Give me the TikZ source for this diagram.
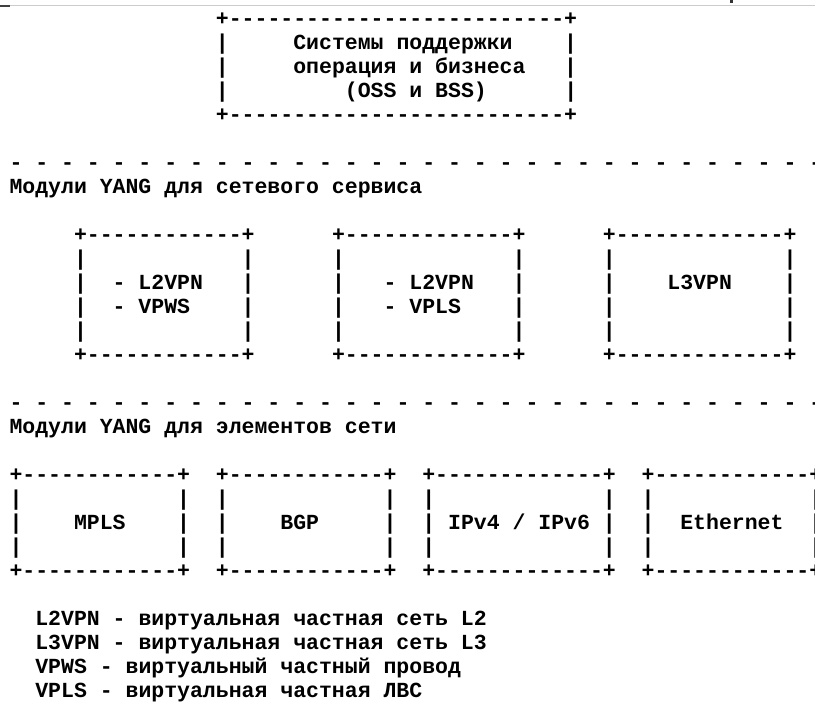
\documentclass[tikz,border=0pt]{standalone}
\usepackage{fontspec}
\setmonofont{Liberation Mono}

% monospaced bold text, one character = 12.9pt, one line = 24.03pt
\newcommand{\asciifont}{\ttfamily\bfseries\fontsize{21.5}{24.03}\selectfont}

\begin{document}
\begin{tikzpicture}[x=1pt, y=-1pt,
    ascii/.style={font=\asciifont, inner sep=0pt, anchor=base west}]
  \fill[white] (0,0) rectangle (815,705);
  \useasboundingbox (0,0) rectangle (815,705);

  % Page edge left over at the top
  \draw[gray!40, line width=1pt] (0,5.5) -- (815,5.5);
  \draw[black!75, line width=1.3pt] (0,6) -- (10,6);
  \fill[black!80] (730,0) rectangle (733,2.5);

  % OSS / BSS
  \node[ascii] (oss) at (215.7,25.07) {\begin{tabular}[t]{@{}l@{}}
    +--------------------------+\\
    |~~~~~Системы~поддержки~~~~|\\
    |~~~~~операция~и~бизнеса~~~|\\
    |~~~~~~~~~(OSS~и~BSS)~~~~~~|\\
    +--------------------------+
  \end{tabular}};

  % Network service modules
  \node[ascii] (sepsvc) at (9.3,169.25)
    {-~-~-~-~-~-~-~-~-~-~-~-~-~-~-~-~-~-~-~-~-~-~-~-~-~-~-~-~-~-~-~-~};
  \node[ascii] (hdrsvc) at (9.3,193.28) {Модули~YANG~для~сетевого~сервиса};

  \node[ascii] (vpws) at (73.8,241.34) {\begin{tabular}[t]{@{}l@{}}
    +------------+\\
    |~~~~~~~~~~~~|\\
    |~~-~L2VPN~~~|\\
    |~~-~VPWS~~~~|\\
    |~~~~~~~~~~~~|\\
    +------------+
  \end{tabular}};
  \node[ascii] (vpls) at (331.8,241.34) {\begin{tabular}[t]{@{}l@{}}
    +-------------+\\
    |~~~~~~~~~~~~~|\\
    |~~~-~L2VPN~~~|\\
    |~~~-~VPLS~~~~|\\
    |~~~~~~~~~~~~~|\\
    +-------------+
  \end{tabular}};
  \node[ascii] (lthree) at (602.7,241.34) {\begin{tabular}[t]{@{}l@{}}
    +-------------+\\
    |~~~~~~~~~~~~~|\\
    |~~~~L3VPN~~~~|\\
    |~~~~~~~~~~~~~|\\
    |~~~~~~~~~~~~~|\\
    +-------------+
  \end{tabular}};

  % Network element modules
  \node[ascii] (sepne) at (9.3,409.55)
    {-~-~-~-~-~-~-~-~-~-~-~-~-~-~-~-~-~-~-~-~-~-~-~-~-~-~-~-~-~-~-~-~};
  \node[ascii] (hdrne) at (9.3,433.58) {Модули~YANG~для~элементов~сети};

  \node[ascii] (mpls) at (9.3,481.64) {\begin{tabular}[t]{@{}l@{}}
    +------------+\\
    |~~~~~~~~~~~~|\\
    |~~~~MPLS~~~~|\\
    |~~~~~~~~~~~~|\\
    +------------+
  \end{tabular}};
  \node[ascii] (bgp) at (215.7,481.64) {\begin{tabular}[t]{@{}l@{}}
    +------------+\\
    |~~~~~~~~~~~~|\\
    |~~~~BGP~~~~~|\\
    |~~~~~~~~~~~~|\\
    +------------+
  \end{tabular}};
  \node[ascii] (ip) at (422.1,481.64) {\begin{tabular}[t]{@{}l@{}}
    +-------------+\\
    |~~~~~~~~~~~~~|\\
    |~IPv4~/~IPv6~|\\
    |~~~~~~~~~~~~~|\\
    +-------------+
  \end{tabular}};
  \node[ascii] (eth) at (641.4,481.64) {\begin{tabular}[t]{@{}l@{}}
    +------------+\\
    |~~~~~~~~~~~~|\\
    |~~Ethernet~~|\\
    |~~~~~~~~~~~~|\\
    +------------+
  \end{tabular}};

  % Legend
  \node[ascii] (legend) at (35.1,625.82) {\begin{tabular}[t]{@{}l@{}}
    L2VPN~-~виртуальная~частная~сеть~L2\\
    L3VPN~-~виртуальная~частная~сеть~L3\\
    VPWS~-~виртуальный~частный~провод\\
    VPLS~-~виртуальная~частная~ЛВС
  \end{tabular}};

\end{tikzpicture}
\end{document}
